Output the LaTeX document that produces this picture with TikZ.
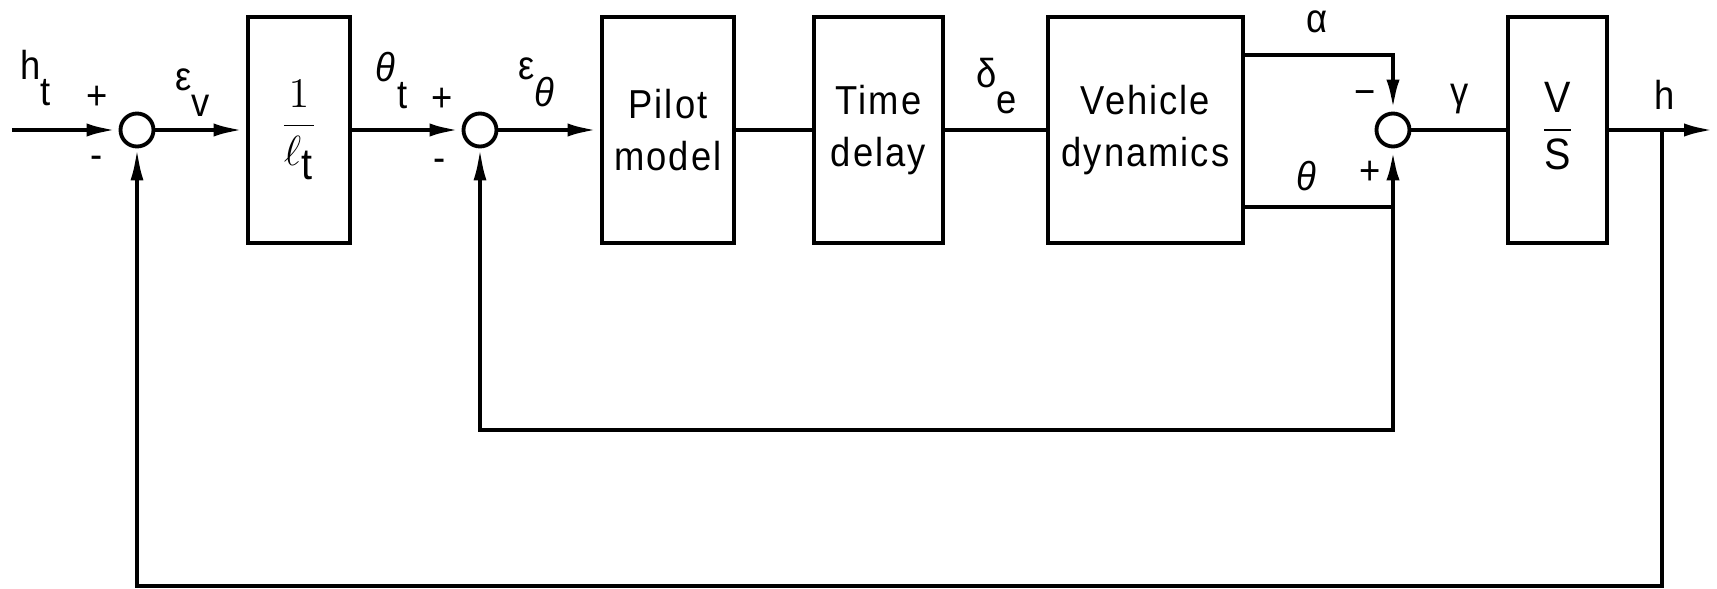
\documentclass[tikz,border=0pt]{standalone}
\usepackage{fontspec}
\setmainfont{Liberation Sans}[FakeStretch=0.9,LetterSpace=5]
\usetikzlibrary{arrows.meta}
\newcommand{\lowsub}[1]{\raisebox{-7.5pt}{#1}}

\begin{document}
\begin{tikzpicture}[x=1mm,y=-1mm,>={Latex[length=3.2mm,width=1.3mm]}]
\tikzstyle{block} = [draw,line width=1.4pt,minimum height=22.6mm,align=center,font=\fontsize{11.5}{14.8}\selectfont]
\tikzstyle{sumpt} = [draw,circle,line width=1.1pt,minimum size=3.3mm,inner sep=0pt]
\tikzstyle{lbl} = [font=\fontsize{11.5}{13}\selectfont,inner sep=0pt]
\tikzstyle{sig} = [line width=1.4pt]
\tikzstyle{fb} = [line width=1.1pt]
\useasboundingbox (0,0) rectangle (171.7,58.9);
	% blocks and summing points
	\node[sumpt] (s1) at (13.7,13) {};
	\node[block,minimum width=10.2mm] (gain) at (29.9,13) {\fontsize{12.5}{14}\selectfont$\displaystyle\frac{1}{\ell_{\textrm{t}}}$};
	\node[sumpt] (s2) at (48,13) {};
	\node[block,minimum width=13.2mm] (pilot) at (66.8,13) {Pilot\\model};
	\node[block,minimum width=12.9mm] (delay) at (87.85,13) {Time\\delay};
	\node[block,minimum width=19.5mm] (veh) at (114.55,13) {Vehicle\\dynamics};
	\node[sumpt] (s3) at (139.3,13) {};
	\node[block,minimum width=9.9mm] (vs) at (155.75,13) {\fontsize{12.5}{14}\selectfont\raisebox{-3pt}[0pt][0pt]{$\displaystyle\frac{\textrm{V}}{\textrm{S}}$}};
	% free ends and corners
	\coordinate (in) at (1.2,13);
	\coordinate (out) at (171.6,13);
	\coordinate (hb) at (166.2,13);
	\coordinate (ob) at (166.2,58.6);
	\coordinate (alf) at (124.3,5.5);
	\coordinate (tht) at (124.3,20.7);
	\coordinate (ib) at (139.3,43);
	% signal path
	\draw[sig,->] (in) -- (s1);
	\draw[sig,->] (s1) -- (gain);
	\draw[sig,->] (gain) -- (s2);
	\draw[sig,->] (s2) -- (pilot);
	\draw[sig] (pilot) -- (delay);
	\draw[sig] (delay) -- (veh);
	\draw[sig,->] (alf) -| (s3);
	\draw[sig,->] (tht) -| (s3);
	\draw[sig] (s3) -- (vs);
	\draw[sig,->] (vs) -- (out);
	% feedback loops
	\draw[fb,->] (tht -| s3) -- (ib) -| (s2);
	\draw[fb,->] (hb) -- (ob) -| (s1);
	% labels
	\node[lbl,anchor=base west] (lht) at (2.0,7.9) {h\lowsub{t}};
	\node[lbl] (p1) at (9.7,9.8) {+};
	\node[lbl] (m1) at (9.7,16.2) {-};
	\node[lbl,anchor=base west] (lev) at (17.5,9.0) {ε\lowsub{v}};
	\node[lbl,anchor=base west] (lth) at (37.5,8.2) {\textit{θ}\lowsub{t}};
	\node[lbl] (p2) at (44.2,10) {+};
	\node[lbl] (m2) at (44,16.5) {-};
	\node[lbl,anchor=base west] (let) at (51.8,8) {ε\lowsub{\textit{θ}}};
	\node[lbl,anchor=base west] (lde) at (97.6,8.7) {δ\lowsub{e}};
	\node[lbl,anchor=base] (lal) at (131.7,3.3) {α};
	\node[lbl,anchor=base] (lthe) at (130.7,19) {\textit{θ}};
	\node[lbl] (m3) at (136.5,9.8) {−};
	\node[lbl] (p3) at (137,17.3) {+};
	\node[lbl,anchor=base] (lga) at (146,10.6) {γ};
	\node[lbl,anchor=base] (lh) at (166.5,11) {h};
\end{tikzpicture}
\end{document}
